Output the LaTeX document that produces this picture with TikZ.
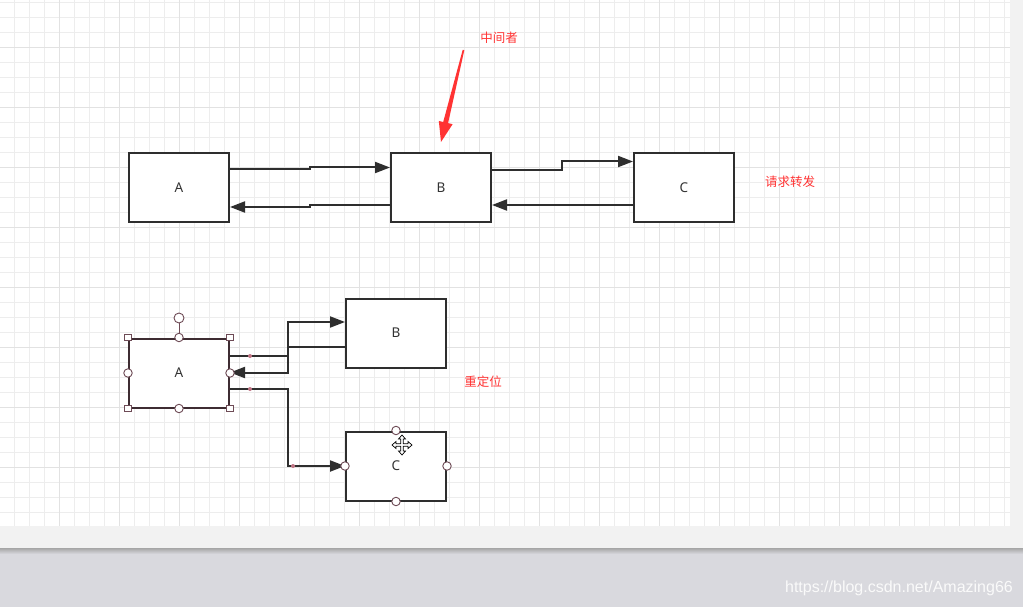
\documentclass[tikz,border=0pt]{standalone}
\usepackage{fontspec}
\setmainfont{Noto Sans}
\newfontfamily\cjk{Noto Sans CJK SC}
\newfontfamily\wm{Liberation Sans}
\usetikzlibrary{arrows.meta}
\definecolor{gridminor}{HTML}{EDEDED}
\definecolor{gridmajor}{HTML}{E2E2E2}
\definecolor{pane}{HTML}{F2F2F2}
\definecolor{desk}{HTML}{D9D9DE}
\definecolor{boxline}{HTML}{2E2E2E}
\definecolor{selline}{HTML}{3E2C32}
\definecolor{handle}{HTML}{6E4B56}
\definecolor{redtxt}{HTML}{FF3333}
\definecolor{dotc}{HTML}{C07585}
\tikzset{
  box/.style={draw=boxline,line width=2pt,fill=white,minimum width=100pt,minimum height=69pt,inner sep=0pt,font=\fontsize{13.5}{15}\selectfont,text=black!80},
  selbox/.style={box,draw=selline},
  conn/.style={draw=boxline,line width=2pt,-{Triangle[length=15pt,width=11pt]}},
  redlabel/.style={text=redtxt,font=\cjk\fontsize{12.5}{14}\selectfont,inner sep=0pt},
  sqhandle/.style={draw=handle,fill=white,line width=0.9pt,minimum size=6.5pt,inner sep=0pt,rectangle},
  cirhandle/.style={draw=handle,fill=white,line width=0.9pt,minimum size=8.5pt,inner sep=0pt,circle},
  pinkdot/.style={fill=dotc,circle,minimum size=4pt,inner sep=0pt}
}
\begin{document}
\begin{tikzpicture}[x=1pt,y=-1pt]
\useasboundingbox (0,0) rectangle (1023,607);
% background
\fill[pane] (0,0) rectangle (1023,550);
\fill[white] (0,0) rectangle (1010,526);
\foreach \i in {0,...,66} \draw[gridminor,line width=0.8pt] ({14.3+15*\i},0) -- ({14.3+15*\i},526);
\foreach \i in {0,...,34} \draw[gridminor,line width=0.8pt] (0,{2.3+15*\i}) -- (1010,{2.3+15*\i});
\foreach \i in {0,...,15} \draw[gridmajor,line width=0.9pt] ({59.3+60*\i},0) -- ({59.3+60*\i},526);
\foreach \i in {0,...,7} \draw[gridmajor,line width=0.9pt] (0,{47.3+60*\i}) -- (1010,{47.3+60*\i});
\fill[desk] (0,550) rectangle (1023,607);
\shade[top color=black!35,bottom color=desk] (0,548) rectangle (1023,554);
\node[text=white!96!gray,font=\wm\fontsize{16}{17}\selectfont,anchor=east,inner sep=0pt] (watermark) at (1013,588) {https://blog.csdn.net/Amazing66};

% top row
\node[box] (A1) at (179,187.5) {A};
\node[box] (B1) at (441,187.5) {B};
\node[box] (C1) at (684,187.5) {C};
\draw[conn] (A1.east |- 0,169) -- (310,169) -- (310,167.5) -- (B1.west |- 0,167.5);
\draw[conn] (B1.west |- 0,205) -- (310,205) -- (310,207) -- (A1.east |- 0,207);
\draw[conn] (B1.east |- 0,170) -- (562,170) -- (562,161.5) -- (C1.west |- 0,161.5);
\draw[conn] (C1.west |- 0,205) -- (B1.east |- 0,205);

\node[redlabel] (mid) at (499,38) {中间者};
\node[redlabel] (fwd) at (790,182) {请求转发};
\coordinate (redtail) at (463.5,50);
\coordinate (redtip) at (441,142);
\fill[redtxt] (464.3,50.2) -- (448.1,123.1) -- (452.6,124.2) -- (redtip) -- (438.8,120.9) -- (443.2,122.0) -- (462.7,49.8) -- cycle;

% bottom row
\node[box] (B2) at (396,333) {B};
\node[box] (C2) at (396,466) {C};
\node[selbox] (A2) at (179,373) {A};
\node[redlabel] (redir) at (483,382) {重定位};

\draw[conn] (A2.east |- 0,356) -- (288,356) -- (288,322) -- (B2.west |- 0,322);
\draw[conn] (B2.west |- 0,347) -- (288,347) -- (288,372.5) -- (A2.east |- 0,372.5);
\draw[conn] (A2.east |- 0,389) -- (288,389) -- (288,466) -- (C2.west);

\node[pinkdot] (d1) at (250,356) {};
\node[pinkdot] (d2) at (250,389) {};
\node[pinkdot] (d3) at (293,466) {};

% selection handles on A
\node[cirhandle,minimum size=10pt] (rot) at (179,318) {};
\draw[handle,line width=1pt] (rot) -- (A2.north);
\foreach \a in {north west,north east,south west,south east} \node[sqhandle] at (A2.\a) {};
\foreach \a in {north,south,west,east} \node[cirhandle] at (A2.\a) {};
% handles on C
\foreach \a in {north,south,west,east} \node[cirhandle] at (C2.\a) {};

% move cursor
\begin{scope}[shift={(402,445)}]
\filldraw[fill=white,draw=black,line width=0.7pt]
 (0,-10) -- (3.5,-6) -- (1.3,-6) -- (1.3,-1.3) -- (6,-1.3) -- (6,-3.5) -- (10,0) -- (6,3.5) -- (6,1.3) -- (1.3,1.3) -- (1.3,6) -- (3.5,6) -- (0,10) -- (-3.5,6) -- (-1.3,6) -- (-1.3,1.3) -- (-6,1.3) -- (-6,3.5) -- (-10,0) -- (-6,-3.5) -- (-6,-1.3) -- (-1.3,-1.3) -- (-1.3,-6) -- (-3.5,-6) -- cycle;
\end{scope}
\end{tikzpicture}
\end{document}
